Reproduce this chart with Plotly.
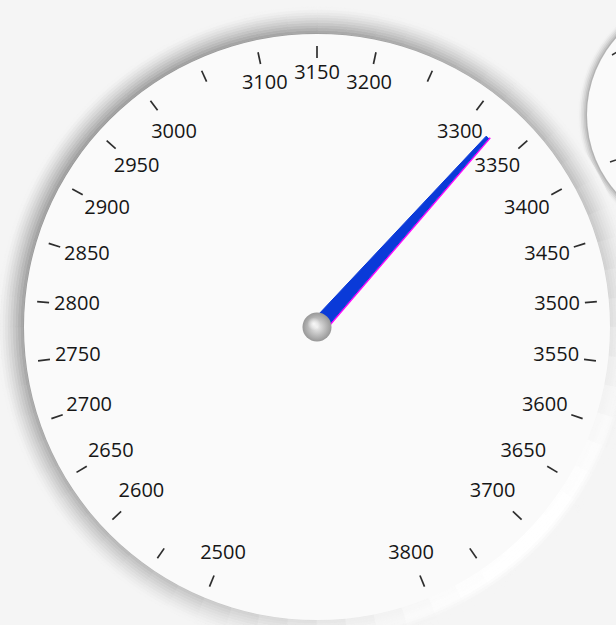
import math
import plotly.graph_objects as go

# ---------------- data ----------------
scale_min = 2500
scale_max = 3800
tick_values = [2500, 2550, 2600, 2650, 2700, 2750, 2800, 2850, 2900, 2950, 3000,
               3050, 3100, 3150, 3200, 3250, 3300, 3350, 3400, 3450, 3500, 3550,
               3600, 3650, 3700, 3750, 3800]
label_values = [2500, 2600, 2650, 2700, 2750, 2800, 2850, 2900, 2950, 3000, 3100,
                3150, 3200, 3300, 3350, 3400, 3450, 3500, 3550, 3600, 3650, 3700, 3800]
label_text = [str(v) for v in label_values]
needle_value = 3323

# ---------------- geometry / style ----------------
W, H = 616, 625
CX, CY = 317, 327          # gauge centre in page pixels
R_FACE = 293
START_DEG = 247.5          # angle of scale_min (math degrees, ccw from +x)
SWEEP = 315.0              # clockwise sweep to scale_max
BG = 245
FACE = "#fafafa"


def val2deg(v):
    return START_DEG - (v - scale_min) / (scale_max - scale_min) * SWEEP


def label_r(d):
    s = math.sin(math.radians(d))
    return 241 + 12 * max(0.0, s) ** 20 + 12 * max(0.0, -s) ** 12


def P(px, py):
    return px / W, 1 - py / H


shapes = []

# ---- neighbouring gauge (cut off at the right edge) ----
C2X, C2Y, R2 = 703, 115, 116
for i in range(6):
    rr = R2 + 9.5 - i * 1.6
    t = (rr - R2) / 10.0
    g = int(BG - 85 * (1 - t) ** 1.6)
    x0, y0 = P(C2X - rr, C2Y + rr)
    x1, y1 = P(C2X + rr, C2Y - rr)
    shapes.append(dict(type="circle", xref="paper", yref="paper", x0=x0, y0=y0, x1=x1, y1=y1,
                       fillcolor=f"rgb({g},{g},{g})", line=dict(width=0), layer="below"))
x0, y0 = P(C2X - R2, C2Y + R2)
x1, y1 = P(C2X + R2, C2Y - R2)
shapes.append(dict(type="circle", xref="paper", yref="paper", x0=x0, y0=y0, x1=x1, y1=y1,
                   fillcolor=FACE, line=dict(width=0), layer="below"))
for (ax, ay, bx, by) in [(612, 55, 617, 52), (610, 162, 616, 160)]:
    a = P(ax, ay)
    b = P(bx, by)
    shapes.append(dict(type="line", xref="paper", yref="paper", x0=a[0], y0=a[1], x1=b[0], y1=b[1],
                       line=dict(color="#333333", width=1.5), layer="below"))

# ---- bezel / shadow ring of the main gauge ----
N_ANG = 64
N_RAD = 11
R_IN, R_OUT = 291.5, 320.0
for ia in range(N_ANG):
    a0 = 360.0 * ia / N_ANG
    a1 = 360.0 * (ia + 1) / N_ANG
    am = (a0 + a1) / 2
    S = 95 * ((1 + math.cos(math.radians(am - 135))) / 2) ** 0.5
    Hh = max(0.0, math.cos(math.radians(am + 45))) ** 3
    for ir in range(N_RAD):
        r0 = R_IN + (R_OUT - R_IN) * ir / N_RAD
        r1 = R_IN + (R_OUT - R_IN) * (ir + 1) / N_RAD
        t = ((r0 + r1) / 2 - 293) / (R_OUT - 293)
        t = min(max(t, 0.0), 1.0)
        if t < 0.5:
            wv = 1.0
        elif t < 0.75:
            wv = 1 - (t - 0.5) / 0.25
        else:
            wv = 0.0
        g = BG - S * (1 - t) ** 1.4 * (1 - Hh) + (255 - BG) * Hh * wv
        g = int(max(0, min(255, round(g))))
        col = f"rgb({g},{g},{g})"
        pts = []
        steps = 3
        for k in range(steps + 1):
            ang = math.radians(a0 + (a1 - a0) * k / steps)
            pts.append(P(CX + r1 * math.cos(ang), CY - r1 * math.sin(ang)))
        for k in range(steps, -1, -1):
            ang = math.radians(a0 + (a1 - a0) * k / steps)
            pts.append(P(CX + r0 * math.cos(ang), CY - r0 * math.sin(ang)))
        path = "M " + " L ".join(f"{x:.5f},{y:.5f}" for x, y in pts) + " Z"
        shapes.append(dict(type="path", xref="paper", yref="paper", path=path,
                           fillcolor=col, line=dict(color=col, width=0.7), layer="below"))

fig = go.Figure()

# ---- ticks ----
tr, tt = [], []
for v in tick_values:
    d = val2deg(v)
    tr += [269, 281, None]
    tt += [d, d, None]
fig.add_trace(go.Scatterpolar(r=tr, theta=tt, mode="lines",
                              line=dict(color="#2e2e2e", width=1.7),
                              hoverinfo="skip", showlegend=False))

# ---- labels ----
ld = [val2deg(v) for v in label_values]
fig.add_trace(go.Scatterpolar(r=[label_r(d) for d in ld], theta=ld, mode="text",
                              text=label_text, textposition="middle center",
                              textfont=dict(family="Open Sans, Noto Sans, sans-serif",
                                            size=20, color="#161616"),
                              hoverinfo="skip", showlegend=False))

# ---- needle ----
nd = val2deg(needle_value)
R_TIP = 255.0
hw_base, hw_tip = 7.5, 1.6
dtip = math.degrees(math.atan(hw_tip / R_TIP))
rtip = math.hypot(R_TIP, hw_tip)
dmag = math.degrees(math.atan((hw_tip + 0.9) / R_TIP))
fig.add_trace(go.Scatterpolar(r=[hw_base + 0.9, rtip + 1.5], theta=[nd - 90, nd - dmag],
                              mode="lines", line=dict(color="#ff00ff", width=1.6),
                              hoverinfo="skip", showlegend=False))
fig.add_trace(go.Scatterpolar(r=[hw_base, rtip, rtip, hw_base, hw_base],
                              theta=[nd + 90, nd + dtip, nd - dtip, nd - 90, nd + 90],
                              mode="lines", fill="toself", fillcolor="#0a3ad8",
                              line=dict(color="#0a3ad8", width=1),
                              hoverinfo="skip", showlegend=False))

# ---- pivot ----
fig.add_trace(go.Scatterpolar(r=[0], theta=[0], mode="markers",
                              marker=dict(size=29, color="#979797",
                                          gradient=dict(type="radial", color="#efefef"),
                                          line=dict(width=0)),
                              hoverinfo="skip", showlegend=False))
fig.add_trace(go.Scatterpolar(r=[4.5], theta=[135], mode="markers",
                              marker=dict(size=13, color="rgba(255,255,255,0)",
                                          gradient=dict(type="radial", color="rgba(255,255,255,0.85)"),
                                          line=dict(width=0)),
                              hoverinfo="skip", showlegend=False))

fig.update_layout(
    width=W, height=H, autosize=False,
    margin=dict(l=0, r=0, t=0, b=0),
    paper_bgcolor=f"rgb({BG},{BG},{BG})",
    plot_bgcolor=f"rgb({BG},{BG},{BG})",
    showlegend=False,
    shapes=shapes,
    polar=dict(
        domain=dict(x=[(CX - R_FACE) / W, (CX + R_FACE) / W],
                    y=[(H - CY - R_FACE) / H, (H - CY + R_FACE) / H]),
        bgcolor=FACE,
        radialaxis=dict(range=[0, R_FACE], visible=False, showgrid=False, showline=False),
        angularaxis=dict(visible=False, showgrid=False, showline=False, ticks="",
                         direction="counterclockwise", rotation=0, thetaunit="degrees"),
    ),
)

fig.write_html("out.html", config={"displayModeBar": False},
               post_script="document.body.style.margin='0px';document.body.style.overflow='hidden';"
                           "document.body.style.background='rgb(245,245,245)';")
